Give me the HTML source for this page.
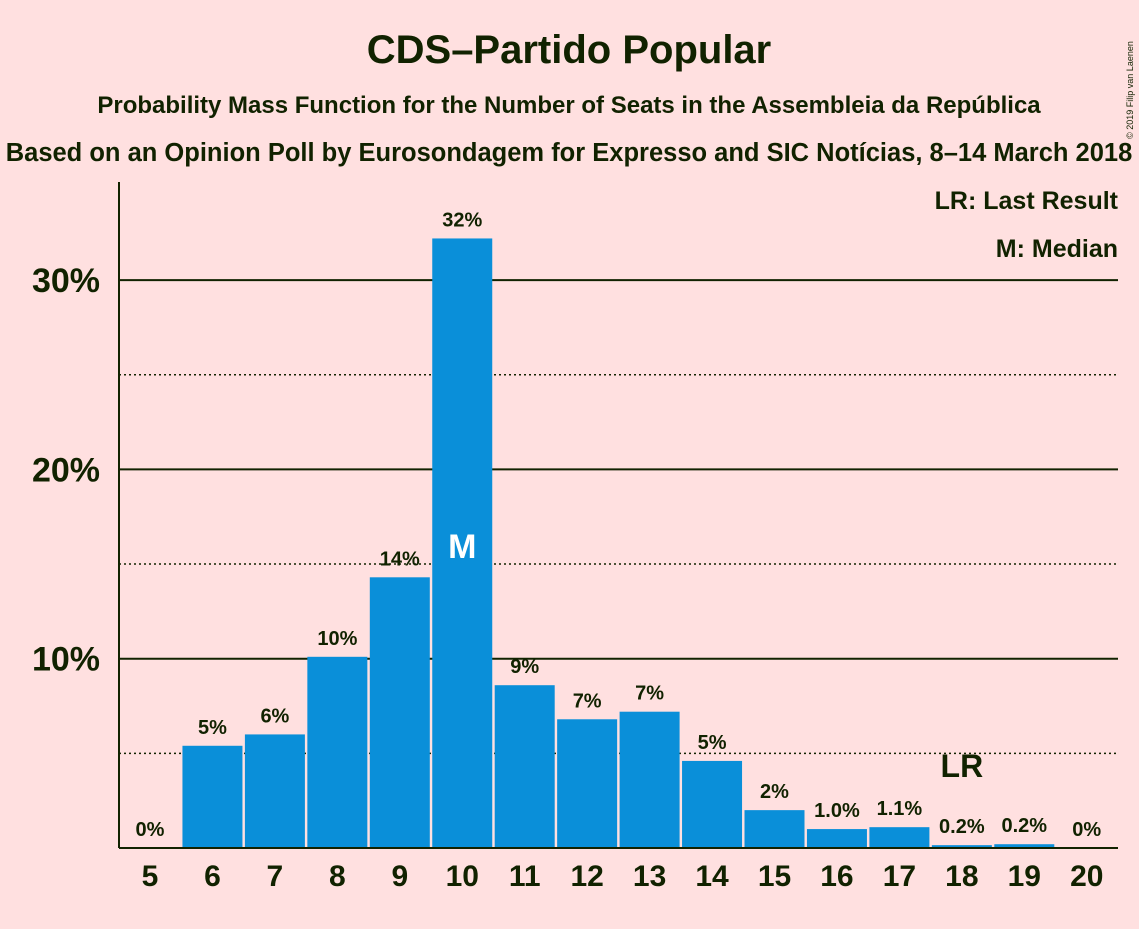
<!DOCTYPE html>
<html><head><meta charset="utf-8"><style>
body{margin:0;background:#FFE0E0;}
svg text{font-family:"Liberation Sans",sans-serif;font-weight:bold;fill:#112200;}
</style></head><body>
<svg id="chart" width="1139" height="924" xmlns="http://www.w3.org/2000/svg">
<rect width="1139" height="924" fill="#FFE0E0"/>
<text x="569" y="63" font-size="40" text-anchor="middle">CDS–Partido Popular</text>
<text x="569" y="113" font-size="24" text-anchor="middle">Probability Mass Function for the Number of Seats in the Assembleia da República</text>
<text x="569" y="161" font-size="25.5" text-anchor="middle">Based on an Opinion Poll by Eurosondagem for Expresso and SIC Notícias, 8–14 March 2018</text>
<text x="1133" y="90" font-size="9" transform="rotate(-90 1133 90)" text-anchor="middle" style="font-weight:normal">© 2019 Filip van Laenen</text>
<g id="grid"></g>
<g id="bars"></g>
<g id="labels"></g>
<line x1="119" y1="182" x2="119" y2="848" stroke="#112200" stroke-width="2"/>
<line x1="119" y1="848" x2="1118" y2="848" stroke="#112200" stroke-width="2"/>
<text x="1118" y="209" font-size="25" text-anchor="end">LR: Last Result</text>
<text x="1118" y="257" font-size="25" text-anchor="end">M: Median</text>
</svg>
<script>
const seats=[5,6,7,8,9,10,11,12,13,14,15,16,17,18,19,20];
const probs=[0,5.4,6.0,10.1,14.3,32.2,8.6,6.8,7.2,4.6,2.0,1.0,1.1,0.15,0.2,0];
const valueLabels=["0%","5%","6%","10%","14%","32%","9%","7%","7%","5%","2%","1.0%","1.1%","0.2%","0.2%","0%"];
const yTicks=[10,20,30];
const yTickLabels=["10%","20%","30%"];
const dottedTicks=[5,15,25];
const medianSeat=10;
const lastResultSeat=18;
const NS="http://www.w3.org/2000/svg";
const y=v=>848-v*18.93;
const x=s=>150+(s-5)*62.45;
function mk(tag,attrs,parent){const e=document.createElementNS(NS,tag);for(const k in attrs)e.setAttribute(k,attrs[k]);document.getElementById(parent).appendChild(e);return e;}
dottedTicks.forEach(t=>{const l=mk('line',{x1:119,x2:1118,y1:y(t),y2:y(t),stroke:'#112200','stroke-width':1.5,'stroke-dasharray':'2,3'},'grid');

});
yTicks.forEach((t,i)=>{const l=mk('line',{x1:119,x2:1118,y1:y(t),y2:y(t),stroke:'#112200','stroke-width':2},'grid');


const tx=mk('text',{x:100,y:y(t)+12,'font-size':34,'text-anchor':'end'},'grid');tx.textContent=yTickLabels[i];

});
seats.forEach((s,i)=>{
 const v=probs[i];
 if(v>0){const r=mk('rect',{x:x(s)-30,y:y(v),width:60,height:848-y(v),fill:'#0A8FD9'},'bars');
 
 }
 const vl=mk('text',{x:x(s),y:y(v)-12,'font-size':20,'text-anchor':'middle'},'labels');vl.textContent=valueLabels[i];
 
 
 const xl=mk('text',{x:x(s),y:886,'font-size':30,'text-anchor':'middle'},'labels');xl.textContent=s;
 
 
});
const m=mk('text',{x:x(medianSeat),y:558,'font-size':34,'text-anchor':'middle',style:'fill:#fff'},'labels');m.textContent='M';


const lr=mk('text',{x:x(lastResultSeat),y:777,'font-size':32,'text-anchor':'middle'},'labels');lr.textContent='LR';


</script>
</body></html>
